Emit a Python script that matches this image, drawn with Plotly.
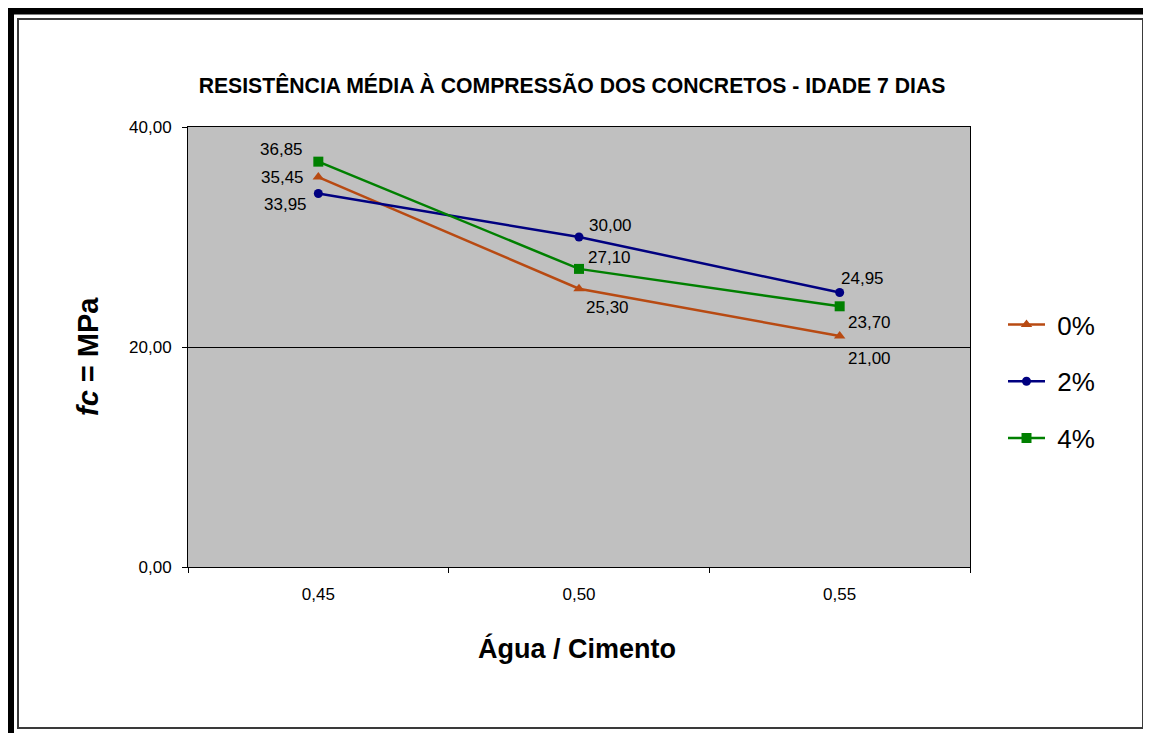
import plotly.graph_objects as go

# ---------------- data ----------------
categories = ["0,45", "0,50", "0,55"]
series_names = ["0%", "2%", "4%"]
values_0 = [35.45, 25.30, 21.00]
values_2 = [33.95, 30.00, 24.95]
values_4 = [36.85, 27.10, 23.70]
y_ticks = [0, 20, 40]

# ---------------- style ----------------
FONT = "Liberation Sans, Arial, sans-serif"
OFF = 8  # page body margin
W, H = 1151 - OFF, 733 - OFF
PL, PR, PT, PB = 188 - OFF, 970 - OFF, 127 - OFF, 567 - OFF  # plot area in figure pixels

def px(x):
    return (x - OFF - PL) / (PR - PL)

def py(y):
    return (PB - (y - OFF)) / (PB - PT)

styles = [
    dict(color="#B84A12", symbol="triangle-up", size=10),
    dict(color="#000080", symbol="circle", size=9),
    dict(color="#008000", symbol="square", size=10),
]
# label placement per point: (xanchor, xshift, yshift)
label_offsets = [
    [("right", -12, 0), ("left", 5, -19), ("left", 6, -22)],
    [("right", -9, -11), ("left", 8, 12), ("left", -1, 14)],
    [("right", -13, 12), ("left", 7, 11), ("left", 6, -16)],
]

all_values = [values_0, values_2, values_4]

fig = go.Figure()
annotations = []
for name, vals, st, offs in zip(series_names, all_values, styles, label_offsets):
    fig.add_trace(go.Scatter(
        x=categories, y=vals, name="\u00a0" + name, mode="lines+markers",
        legendgroup=name,
        line=dict(color=st["color"], width=2.5),
        marker=dict(color=st["color"], symbol=st["symbol"], size=st["size"]),
    ))
    for c, v, (xa, xs, ys) in zip(categories, vals, offs):
        annotations.append(dict(
            x=c, y=v, xref="x", yref="y", text=f"{v:.2f}".replace(".", ","),
            showarrow=False, xanchor=xa, yanchor="middle", xshift=xs, yshift=ys,
            font=dict(family=FONT, size=17, color="#000"),
        ))

# axis titles
annotations.append(dict(
    x=px(577), y=py(648), xref="paper", yref="paper",
    text="<b>Água / Cimento</b>", showarrow=False,
    xanchor="center", yanchor="middle",
    font=dict(family=FONT, size=27, color="#000"),
))
annotations.append(dict(
    x=px(88), y=py(357), xref="paper", yref="paper",
    text="<b><i>fc</i> = MPa</b>", showarrow=False, textangle=-90,
    xanchor="center", yanchor="middle",
    font=dict(family=FONT, size=29, color="#000"),
))

shapes = [
    # outer black frame
    dict(type="rect", xref="paper", yref="paper",
         x0=px(10), x1=px(1151), y0=py(10.5), y1=py(745),
         line=dict(color="#000", width=8), layer="above"),
    # inner thin frame
    dict(type="rect", xref="paper", yref="paper",
         x0=px(18), x1=px(1143), y0=py(19), y1=py(728),
         line=dict(color="#3a3a3a", width=2), layer="above"),
]

fig.update_layout(
    width=W, height=H,
    margin=dict(l=PL, r=W - PR, t=PT, b=H - PB, pad=0),
    paper_bgcolor="#FFFFFF",
    plot_bgcolor="#C0C0C0",
    separators=",.",
    font=dict(family=FONT, size=17, color="#000"),
    title=dict(
        text="<b>RESISTÊNCIA MÉDIA À COMPRESSÃO DOS CONCRETOS - IDADE 7 DIAS</b>",
        x=(572 - OFF) / W, xref="container", xanchor="center",
        y=1 - (86 - OFF) / H, yref="container", yanchor="middle",
        font=dict(family=FONT, size=21.2, color="#000"),
    ),
    xaxis=dict(
        type="category", range=[-0.5, 2.5],
        showline=True, linecolor="#000", linewidth=1, mirror=True,
        ticks="outside", ticklen=5, tickcolor="#000", tickson="boundaries",
        showgrid=False, zeroline=False,
        tickfont=dict(family=FONT, size=17, color="#000"),
        ticklabelstandoff=12,
    ),
    yaxis=dict(
        range=[0, 40], tickvals=y_ticks, tickformat=".2f",
        showline=True, linecolor="#000", linewidth=1, mirror=True,
        ticks="outside", ticklen=5, tickcolor="#000",
        showgrid=True, gridcolor="#000", gridwidth=1, zeroline=False,
        tickfont=dict(family=FONT, size=17, color="#000"),
        ticklabelstandoff=7,
    ),
    legend=dict(
        x=px(1003), y=py(301), xanchor="left", yanchor="top",
        xref="paper", yref="paper",
        font=dict(family=FONT, size=26, color="#000"),
        bgcolor="rgba(0,0,0,0)", tracegroupgap=20, traceorder="grouped",
        itemwidth=37,
    ),
    annotations=annotations,
    shapes=shapes,
    showlegend=True,
)

fig.write_html("out.html")
